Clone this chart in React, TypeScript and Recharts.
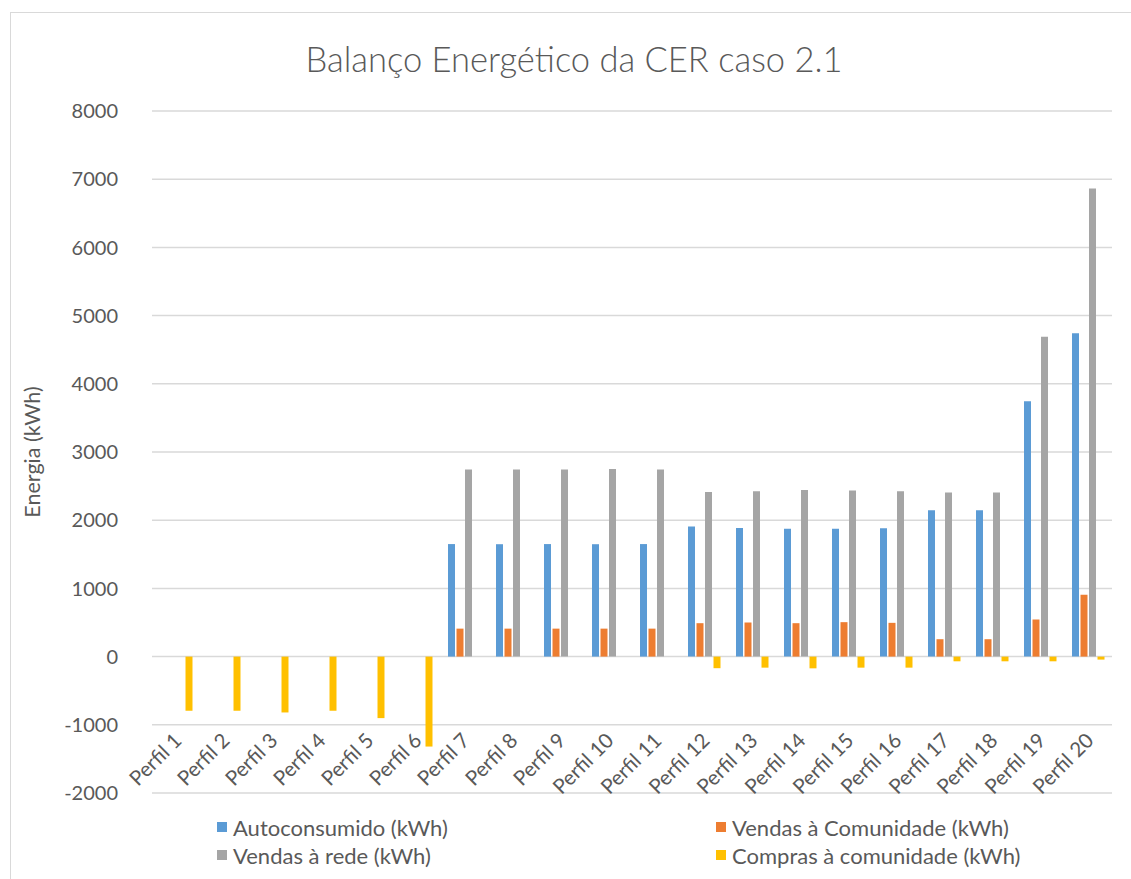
import React from 'react';
import { BarChart, Bar, XAxis, YAxis, CartesianGrid } from 'recharts';

// Values (kWh)
const perfis = [
  'Perfil 1', 'Perfil 2', 'Perfil 3', 'Perfil 4', 'Perfil 5',
  'Perfil 6', 'Perfil 7', 'Perfil 8', 'Perfil 9', 'Perfil 10',
  'Perfil 11', 'Perfil 12', 'Perfil 13', 'Perfil 14', 'Perfil 15',
  'Perfil 16', 'Perfil 17', 'Perfil 18', 'Perfil 19', 'Perfil 20',
];
const autoconsumido = [0, 0, 0, 0, 0, 0, 1650, 1648, 1650, 1648, 1650, 1907, 1887, 1873, 1873, 1882, 2147, 2147, 3745, 4740];
const vendasComunidade = [0, 0, 0, 0, 0, 0, 410, 410, 410, 410, 410, 490, 500, 490, 505, 495, 255, 255, 544, 907];
const vendasRede = [0, 0, 0, 0, 0, 0, 2745, 2745, 2745, 2750, 2745, 2412, 2426, 2441, 2436, 2426, 2407, 2407, 4691, 6863];
const comprasComunidade = [-794, -794, -819, -794, -902, -1319, 0, 0, 0, 0, 0, -170, -162, -172, -162, -162, -69, -69, -69, -44];
const yTicks = [-2000, -1000, 0, 1000, 2000, 3000, 4000, 5000, 6000, 7000, 8000];

const SERIES = [
  { key: 'auto', name: 'Autoconsumido (kWh)', color: '#5B9BD5' },
  { key: 'vcom', name: 'Vendas à Comunidade (kWh)', color: '#ED7D31' },
  { key: 'rede', name: 'Vendas à rede (kWh)', color: '#A5A5A5' },
  { key: 'compras', name: 'Compras à comunidade (kWh)', color: '#FFC000' },
];

const data = perfis.map((perfil, i) => ({
  perfil,
  auto: autoconsumido[i],
  vcom: vendasComunidade[i],
  rede: vendasRede[i],
  compras: comprasComunidade[i],
}));

const FONT = 'Lato, "Open Sans", sans-serif';
const TEXT = '#595959';

const W = 1131;
const H = 879;
const TOP = 111;
const AXIS_H = 86;
const PLOT_H = H - TOP - AXIS_H;
const Y_MIN = yTicks[0];
const Y_MAX = yTicks[yTicks.length - 1];
const yPos = (v: number) => TOP + ((Y_MAX - v) / (Y_MAX - Y_MIN)) * PLOT_H;

// Excel puts the category labels just under the -1000 gridline
const LABEL_SHIFT = H - AXIS_H - (yPos(-1000) + 17);

const PerfilTick = (props: any) => {
  const { x, y, payload } = props;
  const ax = x + 7;
  const ay = y - LABEL_SHIFT;
  return (
    <text
      x={ax}
      y={ay}
      textAnchor="end"
      fill={TEXT}
      fontSize={20.5}
      fontFamily={FONT}
      transform={`rotate(-45 ${ax} ${ay})`}
    >
      {payload.value}
    </text>
  );
};

export default function App() {
  return (
    <div style={{ position: 'absolute', left: 0, top: 0, width: W, height: H, overflow: 'hidden', background: '#fff', fontFamily: FONT }}>
      <div style={{ position: 'absolute', left: 10, top: 12, width: W + 20, height: H + 20, border: '1px solid #d9d9d9' }} />
      <div style={{ position: 'absolute', left: 0, top: 36, width: 1148, textAlign: 'center', fontSize: 34.5, fontWeight: 300, color: TEXT, lineHeight: '46px' }}>
        Balanço Energético da CER caso 2.1
      </div>
      <div style={{ position: 'absolute', left: 0, top: 0 }}>
        <BarChart
          width={W}
          height={H}
          data={data}
          margin={{ top: TOP, right: 19, bottom: 0, left: 0 }}
          barSize={7}
          barGap={1.5}
        >
          <CartesianGrid vertical={false} stroke="#d9d9d9" strokeWidth={1.5} />
          <XAxis
            dataKey="perfil"
            height={AXIS_H}
            axisLine={false}
            tickLine={false}
            tickSize={0}
            tickMargin={0}
            interval={0}
            tick={<PerfilTick />}
          />
          <YAxis
            width={152}
            domain={[Y_MIN, Y_MAX]}
            ticks={yTicks}
            interval={0}
            axisLine={false}
            tickLine={false}
            tickSize={0}
            tickMargin={34}
            tick={{ fill: TEXT, fontSize: 20, fontFamily: FONT }}
            label={{
              value: 'Energia (kWh)',
              angle: -90,
              position: 'insideLeft',
              offset: 32,
              style: { fill: TEXT, fontSize: 21.5, fontFamily: FONT, textAnchor: 'middle' },
            }}
          />
          {SERIES.map((s) => (
            <Bar key={s.key} dataKey={s.key} name={s.name} fill={s.color} isAnimationActive={false} />
          ))}
        </BarChart>
      </div>
      <div
        style={{
          position: 'absolute',
          left: 217,
          top: 815,
          display: 'grid',
          gridTemplateColumns: '499px auto',
          rowGap: 4,
          fontSize: 22,
          color: TEXT,
        }}
      >
        {SERIES.map((s) => (
          <div key={s.key} style={{ display: 'flex', alignItems: 'center', height: 24, whiteSpace: 'nowrap' }}>
            <span style={{ display: 'inline-block', width: 10, height: 10, background: s.color, marginRight: 6 }} />
            {s.name}
          </div>
        ))}
      </div>
    </div>
  );
}
